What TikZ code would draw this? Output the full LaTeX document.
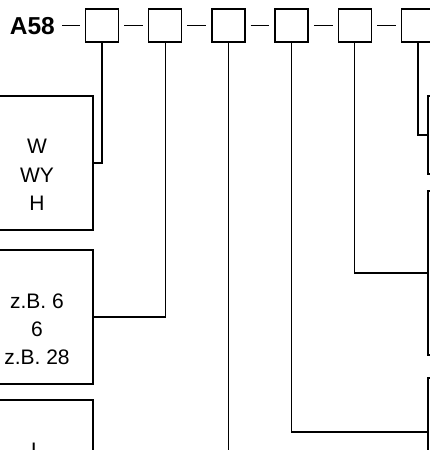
\documentclass[tikz,border=0pt]{standalone}
\usepackage{fontspec}
\setmainfont{Liberation Sans}
\begin{document}
\begin{tikzpicture}[x=1pt,y=-1pt,
  topbox/.style={draw, line width=1.4pt, minimum width=33pt, minimum height=33pt, inner sep=0pt},
  bigbox/.style={draw, line width=1.5pt, inner sep=0pt},
  conn/.style={line width=1.3pt},
  link/.style={line width=1.6pt, shorten <=5pt, shorten >=5pt},
  lbl/.style={font=\fontsize{21}{28}\selectfont, anchor=base, inner sep=0pt}]
\useasboundingbox (0,0) rectangle (430,450);
\clip (0,0) rectangle (430,450);

% title
\node[font=\fontsize{24.5}{28}\bfseries, anchor=base east, inner sep=0pt] (a58) at (55,34) {A58};

% top boxes
\node[topbox] (b1) at (102,25.5) {};
\node[topbox] (b2) at (165.2,25.5) {};
\node[topbox] (b3) at (228.4,25.5) {};
\node[topbox] (b4) at (291.6,25.5) {};
\node[topbox] (b5) at (354.8,25.5) {};
\node[topbox] (b6) at (418,25.5) {};

\draw[line width=1.6pt, shorten <=7pt, shorten >=5pt] (a58.east |- b1.west) -- (b1.west);
\draw[link] (b1.east) -- (b2.west);
\draw[link] (b2.east) -- (b3.west);
\draw[link] (b3.east) -- (b4.west);
\draw[link] (b4.east) -- (b5.west);
\draw[link] (b5.east) -- (b6.west);

% left boxes
\node[bigbox, minimum width=112pt, minimum height=134pt] (wbox) at (37,163) {};
\node[bigbox, minimum width=112pt, minimum height=134pt] (zbox) at (37,317) {};
\node[bigbox, minimum width=112pt, minimum height=134pt] (lbox) at (37,467) {};

\node[lbl] (w1) at (37,153) {W};
\node[lbl] (w2) at (37,182) {WY};
\node[lbl] (w3) at (37,210) {H};
\node[lbl] (z1) at (37,308) {z.B. 6};
\node[lbl] (z2) at (37,336) {6};
\node[lbl] (z3) at (37,364) {z.B. 28};
\node[lbl] (l1) at (37,457) {L};

% right boxes
\node[bigbox, minimum width=60pt, minimum height=78pt] (ra) at (458,135) {};
\node[bigbox, minimum width=60pt, minimum height=164pt] (rb) at (458,273) {};
\node[bigbox, minimum width=60pt, minimum height=108pt] (rc) at (458,432) {};

% connectors
\draw[conn] (b1.south) |- (wbox.east);
\draw[conn] (b2.south) |- (zbox.east);
\draw[conn] (b3.south) |- (lbox.east);
\draw[conn] (b4.south) |- (rc.west);
\draw[conn] (b5.south) |- (rb.west);
\draw[conn] (b6.south) |- (ra.west);
\end{tikzpicture}
\end{document}
